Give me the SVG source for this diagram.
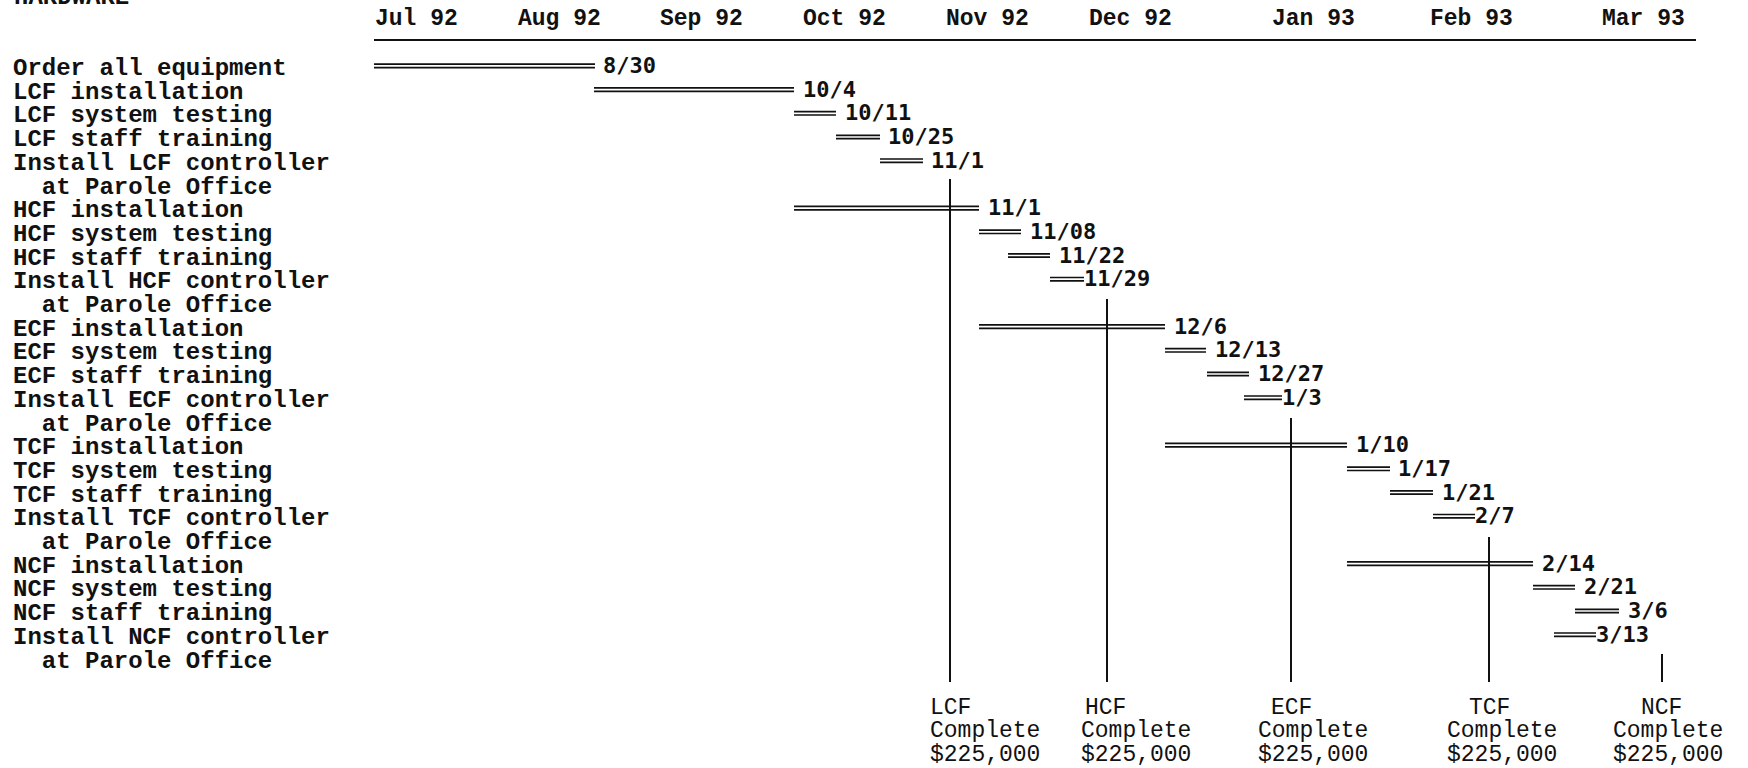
<svg xmlns="http://www.w3.org/2000/svg" width="1748" height="768" viewBox="0 0 1748 768">
<style>
.lbl{font-family:"Liberation Mono","Courier New",monospace;font-weight:bold;font-size:24px;fill:#111}
.mon{font-family:"Liberation Mono","Courier New",monospace;font-weight:bold;font-size:23px;fill:#111}
.dt{font-family:"DejaVu Sans Mono","Liberation Mono",monospace;font-weight:bold;font-size:22px;fill:#111}
.cmp{font-family:"Liberation Mono","Courier New",monospace;font-size:23px;fill:#111}
.bar{stroke:#111;stroke-width:1.7;fill:none}
.vl{stroke:#111;stroke-width:2;fill:none}
.ax{stroke:#111;stroke-width:2;fill:none}
</style>
<rect width="1748" height="768" fill="#fff"/>
<g id="header">
<text class="lbl" x="14" y="4">HARDWARE</text>
<text class="mon" x="375" y="25">Jul 92</text>
<text class="mon" x="518" y="25">Aug 92</text>
<text class="mon" x="660" y="25">Sep 92</text>
<text class="mon" x="803" y="25">Oct 92</text>
<text class="mon" x="946" y="25">Nov 92</text>
<text class="mon" x="1089" y="25">Dec 92</text>
<text class="mon" x="1272" y="25">Jan 93</text>
<text class="mon" x="1430" y="25">Feb 93</text>
<text class="mon" x="1602" y="25">Mar 93</text>
<line class="ax" x1="374" y1="40" x2="1696" y2="40"/>
</g>
<g id="labels">
<text class="lbl" x="13" y="75">Order all equipment</text>
<text class="lbl" x="13" y="98.7">LCF installation</text>
<text class="lbl" x="13" y="122.4">LCF system testing</text>
<text class="lbl" x="13" y="146.1">LCF staff training</text>
<text class="lbl" x="13" y="169.8">Install LCF controller</text>
<text class="lbl" x="41.8" y="193.5">at Parole Office</text>
<text class="lbl" x="13" y="217.2">HCF installation</text>
<text class="lbl" x="13" y="240.9">HCF system testing</text>
<text class="lbl" x="13" y="264.6">HCF staff training</text>
<text class="lbl" x="13" y="288.3">Install HCF controller</text>
<text class="lbl" x="41.8" y="312">at Parole Office</text>
<text class="lbl" x="13" y="335.7">ECF installation</text>
<text class="lbl" x="13" y="359.4">ECF system testing</text>
<text class="lbl" x="13" y="383.1">ECF staff training</text>
<text class="lbl" x="13" y="406.8">Install ECF controller</text>
<text class="lbl" x="41.8" y="430.5">at Parole Office</text>
<text class="lbl" x="13" y="454.2">TCF installation</text>
<text class="lbl" x="13" y="477.9">TCF system testing</text>
<text class="lbl" x="13" y="501.6">TCF staff training</text>
<text class="lbl" x="13" y="525.3">Install TCF controller</text>
<text class="lbl" x="41.8" y="549">at Parole Office</text>
<text class="lbl" x="13" y="572.7">NCF installation</text>
<text class="lbl" x="13" y="596.4">NCF system testing</text>
<text class="lbl" x="13" y="620.1">NCF staff training</text>
<text class="lbl" x="13" y="643.8">Install NCF controller</text>
<text class="lbl" x="41.8" y="667.5">at Parole Office</text>
</g>
<g id="connectors">
<line class="vl" x1="950" y1="179" x2="950" y2="682"/>
<line class="vl" x1="1107" y1="299" x2="1107" y2="682"/>
<line class="vl" x1="1291" y1="418" x2="1291" y2="682"/>
<line class="vl" x1="1489" y1="537" x2="1489" y2="682"/>
<line class="vl" x1="1662" y1="654" x2="1662" y2="682"/>
</g>
<g id="bars">
<g id="t0"><path class="bar" d="M374 64.2H595M374 67.6H595"/><text class="dt" x="603" y="73">8/30</text></g>
<g id="t1"><path class="bar" d="M594 87.9H794M594 91.3H794"/><text class="dt" x="803" y="96.7">10/4</text></g>
<g id="t2"><path class="bar" d="M794 111.6H836M794 115H836"/><text class="dt" x="845" y="120.4">10/11</text></g>
<g id="t3"><path class="bar" d="M836 135.3H880M836 138.7H880"/><text class="dt" x="888" y="144.1">10/25</text></g>
<g id="t4"><path class="bar" d="M880 159H923M880 162.4H923"/><text class="dt" x="931" y="167.8">11/1</text></g>
<g id="t6"><path class="bar" d="M794 206.4H979M794 209.8H979"/><text class="dt" x="988" y="215.2">11/1</text></g>
<g id="t7"><path class="bar" d="M979 230.1H1021M979 233.5H1021"/><text class="dt" x="1030" y="238.9">11/08</text></g>
<g id="t8"><path class="bar" d="M1008 253.8H1050M1008 257.2H1050"/><text class="dt" x="1059" y="262.6">11/22</text></g>
<g id="t9"><path class="bar" d="M1050 277.5H1084M1050 280.9H1084"/><text class="dt" x="1084" y="286.3">11/29</text></g>
<g id="t11"><path class="bar" d="M979 324.9H1165M979 328.3H1165"/><text class="dt" x="1174" y="333.7">12/6</text></g>
<g id="t12"><path class="bar" d="M1165 348.6H1206M1165 352H1206"/><text class="dt" x="1215" y="357.4">12/13</text></g>
<g id="t13"><path class="bar" d="M1207 372.3H1249M1207 375.7H1249"/><text class="dt" x="1258" y="381.1">12/27</text></g>
<g id="t14"><path class="bar" d="M1244 396H1282M1244 399.4H1282"/><text class="dt" x="1282" y="404.8">1/3</text></g>
<g id="t16"><path class="bar" d="M1165 443.4H1347M1165 446.8H1347"/><text class="dt" x="1356" y="452.2">1/10</text></g>
<g id="t17"><path class="bar" d="M1347 467.1H1390M1347 470.5H1390"/><text class="dt" x="1398" y="475.9">1/17</text></g>
<g id="t18"><path class="bar" d="M1390 490.8H1433M1390 494.2H1433"/><text class="dt" x="1442" y="499.6">1/21</text></g>
<g id="t19"><path class="bar" d="M1433 514.5H1475M1433 517.9H1475"/><text class="dt" x="1475" y="523.3">2/7</text></g>
<g id="t21"><path class="bar" d="M1347 561.9H1533M1347 565.3H1533"/><text class="dt" x="1542" y="570.7">2/14</text></g>
<g id="t22"><path class="bar" d="M1533 585.6H1575M1533 589H1575"/><text class="dt" x="1584" y="594.4">2/21</text></g>
<g id="t23"><path class="bar" d="M1575 609.3H1619M1575 612.7H1619"/><text class="dt" x="1628" y="618.1">3/6</text></g>
<g id="t24"><path class="bar" d="M1554 633H1596M1554 636.4H1596"/><text class="dt" x="1596" y="641.8">3/13</text></g>
</g>
<g id="m-lcf"><text class="cmp" x="930" y="714">LCF</text><text class="cmp" x="930" y="737">Complete</text><text class="cmp" x="930" y="761">$225,000</text></g>
<g id="m-hcf"><text class="cmp" x="1085" y="714">HCF</text><text class="cmp" x="1081" y="737">Complete</text><text class="cmp" x="1081" y="761">$225,000</text></g>
<g id="m-ecf"><text class="cmp" x="1271" y="714">ECF</text><text class="cmp" x="1258" y="737">Complete</text><text class="cmp" x="1258" y="761">$225,000</text></g>
<g id="m-tcf"><text class="cmp" x="1469" y="714">TCF</text><text class="cmp" x="1447" y="737">Complete</text><text class="cmp" x="1447" y="761">$225,000</text></g>
<g id="m-ncf"><text class="cmp" x="1641" y="714">NCF</text><text class="cmp" x="1613" y="737">Complete</text><text class="cmp" x="1613" y="761">$225,000</text></g>
</svg>
